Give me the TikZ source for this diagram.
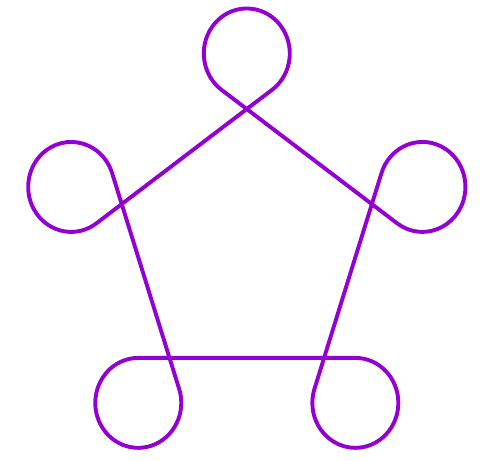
\documentclass[tikz,border=0pt]{standalone}
\usetikzlibrary{calc}
\definecolor{loopviolet}{RGB}{148,0,211}
\tikzset{loopline/.style={draw=loopviolet, line width=3.9pt, line join=round, line cap=round}}
\begin{document}
\begin{tikzpicture}
\useasboundingbox (-246.8pt,-213.4pt) rectangle (242.2pt,246.6pt);
\begin{scope}[yscale=1.046]
\def\R{131.5pt}
\def\C{184.65pt}
\def\r{43pt}
\coordinate (top) at (90:\R);
\draw[loopline] (top)
  -- ($(162:\C)+(306:\r)$) arc[start angle=306, end angle=18, radius=\r]
  -- ($(234:\C)+(378:\r)$) arc[start angle=378, end angle=90, radius=\r]
  -- ($(306:\C)+(450:\r)$) arc[start angle=450, end angle=162, radius=\r]
  -- ($(378:\C)+(522:\r)$) arc[start angle=522, end angle=234, radius=\r]
  -- ($(90:\C)+(234:\r)$) arc[start angle=234, end angle=-54, radius=\r]
  -- cycle;
\end{scope}
\end{tikzpicture}
\end{document}
